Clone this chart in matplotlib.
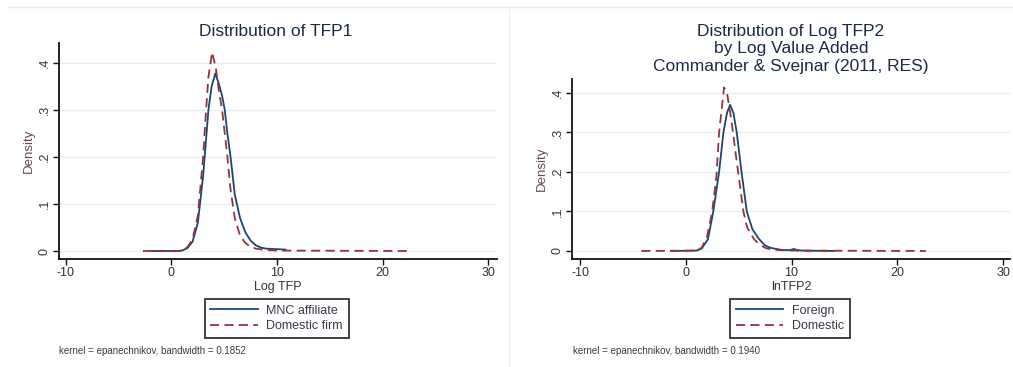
import matplotlib
matplotlib.use("Agg")
import matplotlib.pyplot as plt
from matplotlib.lines import Line2D

plt.rcParams['font.family'] = ['Liberation Sans', 'DejaVu Sans']

# ---------------- data ----------------
# Left panel: Distribution of TFP1
l_mnc_x = [-2.0, 0.5, 1.0, 1.5, 2.0, 2.5, 3.0, 3.25, 3.5, 3.8, 4.16, 4.5, 4.8, 5.05, 5.3, 5.6,
           6.0, 6.5, 7.0, 7.5, 8.0, 8.5, 9.0, 10.0, 10.8]
l_mnc_y = [0.0, 0.0, 0.001, 0.006, 0.02, 0.06, 0.16, 0.23, 0.30, 0.35, 0.378, 0.355, 0.33, 0.30,
           0.25, 0.20, 0.12, 0.07, 0.04, 0.022, 0.012, 0.007, 0.005, 0.004, 0.003]
l_dom_x = [-2.7, 0.5, 1.0, 1.5, 2.0, 2.5, 3.0, 3.25, 3.5, 3.85, 4.2, 4.5, 4.8, 5.0, 5.3, 5.6,
           6.0, 6.5, 7.0, 7.5, 8.0, 9.0, 10.0, 22.3]
l_dom_y = [0.0, 0.0, 0.001, 0.008, 0.025, 0.075, 0.20, 0.29, 0.37, 0.423, 0.39, 0.34, 0.30, 0.26,
           0.20, 0.13, 0.07, 0.033, 0.017, 0.009, 0.005, 0.002, 0.001, 0.0]

# Right panel: Distribution of Log TFP2
r_for_x = [-1.4, 1.0, 1.5, 2.1, 2.6, 3.15, 3.56, 3.9, 4.19, 4.5, 4.82, 5.27, 5.77, 6.3, 6.93,
           7.5, 8.0, 9.0, 9.8, 10.2, 10.6, 11.0, 14.0]
r_for_y = [0.0, 0.001, 0.006, 0.03, 0.10, 0.20, 0.30, 0.35, 0.37, 0.35, 0.30, 0.20, 0.10, 0.055,
           0.03, 0.014, 0.008, 0.003, 0.002, 0.005, 0.002, 0.001, 0.0]
r_dom_x = [-4.2, 1.0, 1.5, 2.0, 2.5, 2.9, 3.15, 3.4, 3.62, 3.9, 4.2, 4.47, 4.7, 4.95, 5.2, 5.45,
           5.8, 6.45, 7.0, 7.5, 8.0, 9.0, 10.0, 22.7]
r_dom_y = [0.0, 0.001, 0.008, 0.035, 0.10, 0.19, 0.30, 0.36, 0.414, 0.40, 0.35, 0.30, 0.25, 0.20,
           0.15, 0.10, 0.06, 0.03, 0.016, 0.008, 0.004, 0.002, 0.001, 0.0]

x_ticks = [-10, 0, 10, 20, 30]
x_ticklabels = ["-10", "0", "10", "20", "30"]
y_ticks = [0, 0.1, 0.2, 0.3, 0.4]
y_ticklabels = ["0", ".1", ".2", ".3", ".4"]

left_title = "Distribution of TFP1"
right_title = "Distribution of Log TFP2\nby Log Value Added\nCommander & Svejnar (2011, RES)"
left_xlabel = "Log TFP"
right_xlabel = "lnTFP2"
left_legend = ["MNC affiliate", "Domestic firm"]
right_legend = ["Foreign", "Domestic"]
left_note = "kernel = epanechnikov, bandwidth = 0.1852"
right_note = "kernel = epanechnikov, bandwidth = 0.1940"

BLUE = "#1a476f"
RED = "#90353b"
GRID = "#e6eef0"
TITLE_C = "#1c2a48"
TXT = "#333333"

W, H = 1013, 367
fig = plt.figure(figsize=(W / 100, H / 100), dpi=100)
fig.patch.set_facecolor("white")


def fx(px):
    return px / W


def fy(py):
    return 1 - py / H


# faint frame lines from the screenshot
fig.add_artist(Line2D([fx(8), fx(1013)], [fy(7), fy(7)], color="#e4e9ea", lw=1))
fig.add_artist(Line2D([fx(509), fx(509)], [fy(7), fy(367)], color="#eef1f2", lw=1))


def make_panel(rect, xlim, ylim, xs1, ys1, xs2, ys2, title, title_y, xlabel, legend,
               leg_center, note, note_x, title_x):
    ax = fig.add_axes(rect)
    ax.set_xlim(*xlim)
    ax.set_ylim(*ylim)
    for y in y_ticks:
        ax.axhline(y, color=GRID, lw=1.0, zorder=0)
    ax.plot(xs1, ys1, color=BLUE, lw=1.3, zorder=3, label=legend[0])
    ax.plot(xs2, ys2, color=RED, lw=1.3, ls=(0, (5, 3)), zorder=4, label=legend[1])
    for s in ["top", "right"]:
        ax.spines[s].set_visible(False)
    for s in ["left", "bottom"]:
        ax.spines[s].set_linewidth(1.3)
        ax.spines[s].set_color("#111111")
    ax.set_xticks(x_ticks)
    ax.set_xticklabels(x_ticklabels, fontsize=9, color=TXT)
    ax.set_yticks(y_ticks)
    ax.set_yticklabels(y_ticklabels, fontsize=9, color=TXT, rotation=90, va="center")
    ax.tick_params(axis="both", length=4, width=1.0, color="#111111", pad=2)
    ax.set_xlabel(xlabel, fontsize=9, color=TXT, labelpad=1)
    ax.set_ylabel("Density", fontsize=9.5, color="#6a4a4a", labelpad=3)
    ax.set_facecolor("white")
    fig.text(title_x, title_y, title, ha="center", va="top",
             fontsize=12.5, color=TITLE_C, linespacing=1.2)
    leg = ax.legend(loc="upper center", bbox_to_anchor=leg_center,
                    bbox_transform=fig.transFigure, fontsize=9, frameon=True,
                    fancybox=False, edgecolor="black", handlelength=3.8,
                    borderpad=0.45, labelspacing=0.3, handletextpad=0.7,
                    borderaxespad=0.0)
    leg.get_frame().set_linewidth(1.3)
    for t in leg.get_texts():
        t.set_color("#3a3a4a")
    fig.text(note_x, fy(351), note, fontsize=7, color="#3a3a4a", va="center", ha="left")
    return ax


make_panel([fx(59), fy(259), 438 / W, 216 / H], (-10.66, 30.85), (-0.017, 0.4426),
           l_mnc_x, l_mnc_y, l_dom_x, l_dom_y, left_title, fy(24), left_xlabel, left_legend,
           (fx(276.5), fy(299)), left_note, fx(59), fx(276))

make_panel([fx(572), fy(259), 438 / W, 180 / H], (-10.76, 30.66), (-0.0203, 0.4354),
           r_for_x, r_for_y, r_dom_x, r_dom_y, right_title, fy(24), right_xlabel, right_legend,
           (fx(790), fy(299)), right_note, fx(573), fx(791))

fig.savefig("out.png", dpi=100)
